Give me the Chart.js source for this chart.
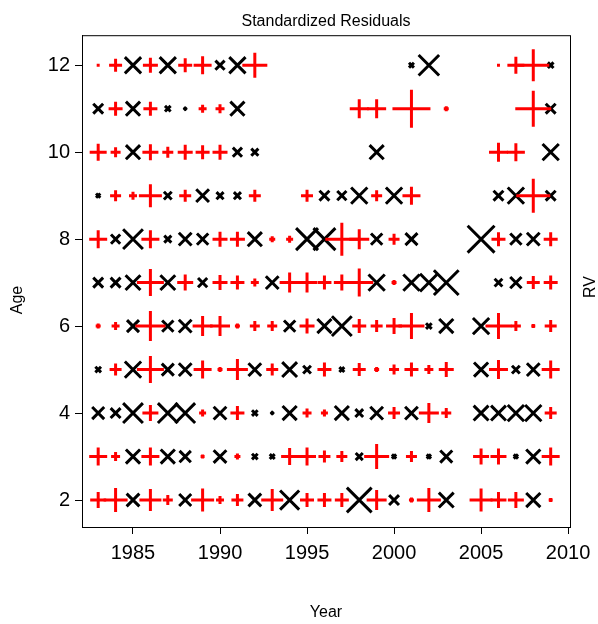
<!DOCTYPE html>
<html>
<head>
<meta charset="utf-8">
<script src="https://cdn.jsdelivr.net/npm/chart.js@4.4.1/dist/chart.umd.min.js"></script>
<style>
  html, body { margin: 0; padding: 0; background: #fff; }
  canvas { display: block; }
</style>
</head>
<body>
<canvas id="chart" width="598" height="624"></canvas>
<script>
const years = [1983, 1984, 1985, 1986, 1987, 1988, 1989, 1990, 1991, 1992, 1993, 1994, 1995, 1996,
  1997, 1998, 1999, 2000, 2001, 2002, 2003, 2004, 2005, 2006, 2007, 2008, 2009];
const ages = [2, 3, 4, 5, 6, 7, 8, 9, 10, 11, 12];
const xTicks = [1985, 1990, 1995, 2000, 2005, 2010];
const yTicks = [2, 4, 6, 8, 10, 12];

// standardized residuals per age, one value per year (null = no data)
const age2 = [1.6, 2.4, -1.8, 2.2, 1.0, -1.7, 2.3, 0.8, 1.2, -1.8, 2.2, -2.7, 1.4, 1.4, 1.4, -3.5, 2.0, -1.4, 0.5, 2.4, -2.1, null, 2.3, 1.6, 1.6, -2.0, 0.4];
const age3 = [1.8, 0.9, -2.0, 1.8, -2.0, -1.6, 0.4, -1.8, 0.6, -0.8, -0.7, 1.7, 1.8, 1.2, 1.1, -1.0, 2.5, -0.6, 1.1, -0.6, -1.7, null, 1.6, 1.6, -0.6, -2.0, 1.8];
const age4 = [-1.7, -1.4, -2.8, 1.6, -2.8, -2.8, 0.7, -1.8, 1.4, -0.8, -0.4, -2.0, 0.9, 0.7, -2.0, -1.1, -1.8, 1.2, -1.8, 2.0, 1.0, null, -2.1, -2.1, -2.3, -2.3, 1.2];
const age5 = [-0.8, 1.2, -2.3, 2.7, -1.7, -1.8, 1.8, 0.5, 2.1, -1.8, 1.2, -2.1, -1.1, 1.4, -0.7, 1.3, 0.5, 1.0, 1.4, 0.9, 1.5, null, -2.0, 1.9, -1.1, -1.8, 1.8];
const age6 = [0.5, 0.8, -1.7, 3.0, -1.6, -1.8, 2.0, 2.0, 0.5, 1.0, 1.0, -1.6, 1.5, -2.0, -2.8, 1.4, 1.2, 1.6, 2.6, -0.8, -2.0, null, -2.3, 2.6, 1.0, 0.4, 1.2];
const age7 = [-1.4, -1.4, -2.1, 2.7, -2.1, 1.6, -1.3, 1.5, 1.4, 0.8, -1.8, 2.0, 2.0, 1.4, 1.6, 2.8, -2.3, 0.5, -2.3, -2.5, -3.5, null, null, -1.1, -1.6, 1.3, 1.4];
const age8 = [1.8, -1.3, -2.8, 1.8, -1.0, -1.8, -1.6, 1.5, 1.5, -2.0, 0.6, 0.7, -3.1, -3.1, 3.3, 2.0, -1.6, 1.1, -1.7, null, null, null, -3.8, 1.4, -1.6, -1.8, 1.4];
const age9 = [-0.6, 1.1, 0.8, 2.3, -1.1, 1.2, -1.8, -1.0, -1.0, 1.2, null, null, 1.2, -1.4, -1.3, -2.3, 1.1, -2.3, 1.8, null, null, null, null, -1.4, -2.3, 3.4, -1.4];
const age10 = [1.7, 1.0, -2.0, 1.6, 1.1, 1.5, 1.4, 1.5, -1.3, -1.0, null, null, null, null, null, null, -2.0, null, null, null, null, null, null, 1.9, 1.8, null, -2.3];
const age11 = [-1.4, 1.4, -2.0, 1.4, -0.8, -0.4, 0.8, 0.9, -2.0, null, null, null, null, null, null, 1.9, 1.9, null, 3.8, null, 0.5, null, null, null, null, 3.6, -1.4];
const age12 = [0.3, 1.3, -2.3, 1.5, -2.3, 1.4, 1.8, -1.3, -2.3, 2.5, null, null, null, null, null, null, null, null, -0.7, -2.9, null, null, null, 0.3, 1.7, 3.2, -0.8];

const residuals = [age2, age3, age4, age5, age6, age7, age8, age9, age10, age11, age12];

const PX_PER_UNIT = 5; // marker arm length per unit residual

function collect(positive) {
  const out = [];
  ages.forEach((age, i) => {
    residuals[i].forEach((r, j) => {
      if (r === null) return;
      if ((r >= 0) === positive) out.push({ x: years[j], y: age, r: r });
    });
  });
  return out;
}

const markerRadius = ctx => (ctx.raw ? Math.abs(ctx.raw.r) * PX_PER_UNIT : 3);

// plot frame plus the two side labels
const framePlugin = {
  id: 'frame',
  afterDraw(chart) {
    const { ctx, chartArea: a } = chart;
    ctx.save();
    ctx.strokeStyle = '#000';
    ctx.lineWidth = 1;
    ctx.strokeRect(a.left + 0.5, a.top + 0.5, a.right - a.left, a.bottom - a.top);
    ctx.fillStyle = '#000';
    ctx.font = '16px "Liberation Sans", Arial, sans-serif';
    ctx.textAlign = 'center';
    ctx.textBaseline = 'middle';
    ctx.save();
    ctx.translate(18, 300);
    ctx.rotate(-Math.PI / 2);
    ctx.fillText('Age', 0, 0);
    ctx.restore();
    ctx.translate(591, 287);
    ctx.rotate(-Math.PI / 2);
    ctx.fillText('RV', 0, 0);
    ctx.restore();
  }
};

Chart.defaults.font.family = '"Liberation Sans", Arial, sans-serif';
Chart.defaults.color = '#000';

new Chart(document.getElementById('chart'), {
  type: 'scatter',
  data: {
    datasets: [
      {
        label: 'positive',
        data: collect(true),
        pointStyle: 'cross',
        borderColor: '#ff0000',
        backgroundColor: '#ff0000',
        pointBorderWidth: 3,
        pointRadius: markerRadius
      },
      {
        label: 'negative',
        data: collect(false),
        pointStyle: 'crossRot',
        borderColor: '#000000',
        backgroundColor: '#000000',
        pointBorderWidth: 3,
        pointRadius: markerRadius
      }
    ]
  },
  options: {
    responsive: false,
    animation: false,
    events: [],
    layout: { padding: { top: 0, left: 0, right: 28, bottom: 0 } },
    plugins: {
      legend: { display: false },
      tooltip: { enabled: false },
      title: {
        display: true,
        fullSize: false,
        text: 'Standardized Residuals',
        color: '#000',
        font: { size: 16, weight: 'normal' },
        padding: { top: 12, bottom: 4 }
      }
    },
    scales: {
      x: {
        type: 'linear',
        min: 1982.07,
        max: 2010.11,
        afterBuildTicks: s => { s.ticks = xTicks.map(v => ({ value: v })); },
        afterFit: s => { s.height = 97; },
        ticks: { font: { size: 20 }, color: '#000', padding: 7, maxRotation: 0, autoSkip: false,
          callback: v => String(v) },
        grid: { drawOnChartArea: false, drawTicks: true, tickLength: 7, color: '#000' },
        border: { display: true, color: '#000' },
        title: { display: true, text: 'Year', color: '#000', font: { size: 16 }, padding: { top: 0, bottom: 2 } }
      },
      y: {
        type: 'linear',
        min: 1.38,
        max: 12.69,
        afterBuildTicks: s => { s.ticks = yTicks.map(v => ({ value: v })); },
        afterFit: s => { s.width = 82; },
        ticks: { font: { size: 20 }, color: '#000', padding: 5, autoSkip: false,
          callback: v => String(v) },
        grid: { drawOnChartArea: false, drawTicks: true, tickLength: 7, color: '#000' },
        border: { display: true, color: '#000' },
        title: { display: false }
      }
    }
  },
  plugins: [framePlugin]
});
</script>
</body>
</html>
